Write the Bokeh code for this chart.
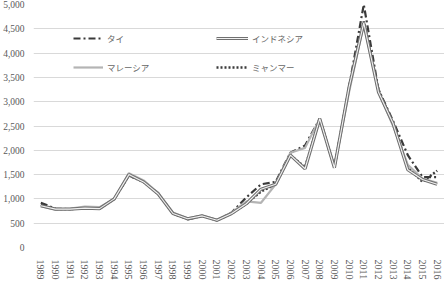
import math
from bokeh.plotting import figure
from bokeh.models import FactorRange, Range1d, Legend, LegendItem, NumeralTickFormatter, FixedTicker
from bokeh.embed import file_html
from bokeh.resources import INLINE

years = [str(y) for y in range(1989, 2017)]

thai = [920, 800, 790, 810, 800, 1000, 1480, 1360, 1120, 700, 580, 650, 560, 720,
        1030, 1300, 1350, 1950, 2100, 2650, 1650, 3300, 5000, 3250, 2600, 1900, 1450, 1450]
indonesia = [860, 790, 790, 810, 800, 1000, 1500, 1350, 1100, 700, 590, 650, 560, 700,
             900, 1200, 1300, 1900, 1620, 2650, 1640, 3300, 4620, 3200, 2550, 1600, 1400, 1300]
malaysia = [850, 780, 800, 840, 830, 1000, 1530, 1380, 1120, 720, 600, 660, 570, 720,
            950, 920, 1300, 1950, 2050, 2650, 1650, 3200, 4600, 3200, 2500, 1700, 1420, 1330]
myanmar = [880, 790, 790, 810, 800, 1000, 1480, 1350, 1100, 700, 590, 650, 560, 700,
           900, 1150, 1300, 1900, 1650, 2650, 1650, 3300, 4650, 3250, 2550, 1650, 1350, 1580]

labels = ["タイ", "インドネシア", "マレーシア", "ミャンマー"]
y_ticks = [0, 500, 1000, 1500, 2000, 2500, 3000, 3500, 4000, 4500, 5000]

p = figure(width=444, height=282, x_range=FactorRange(*years), y_range=Range1d(0, 5000),
           output_backend="svg", toolbar_location=None,
           min_border_left=27, min_border_right=0, min_border_top=4, min_border_bottom=35)
p.outline_line_color = None
p.background_fill_color = "white"
p.border_fill_color = "white"

p.xgrid.grid_line_color = None
p.ygrid.grid_line_color = "#d9d9d9"
p.ygrid.grid_line_width = 1

p.yaxis.ticker = FixedTicker(ticks=y_ticks)
p.yaxis.formatter = NumeralTickFormatter(format="0,0")
for ax in (p.xaxis[0], p.yaxis[0]):
    ax.axis_line_color = None
    ax.major_tick_line_color = None
    ax.minor_tick_line_color = None
    ax.major_label_text_font = "Liberation Serif"
    ax.major_label_text_color = "#595959"
    ax.major_label_text_font_size = "9.5px"
p.yaxis.major_label_standoff = 3
p.xaxis.major_label_orientation = -math.pi / 2
p.xaxis.major_label_standoff = 6
p.xaxis.major_label_text_font_size = "10px"

r_thai = p.line(years, thai, line_color="#3a3a3a", line_width=2.2, line_dash="7 3 2 3")
r_mya = p.line(years, myanmar, line_color="#3a3a3a", line_width=2.4, line_dash="2 2")
r_mal = p.line(years, malaysia, line_color="#b4b4b4", line_width=2.2)
r_ind_o = p.line(years, indonesia, line_color="#707070", line_width=3.2)
r_ind_i = p.line(years, indonesia, line_color="#f2f2f2", line_width=1.1)

def add_legend(label, renderers, x, y, gw):
    lg = Legend(items=[LegendItem(label=label, renderers=renderers)], location=(x, y),
                padding=0, margin=0, spacing=0, border_line_color=None,
                background_fill_alpha=0, glyph_width=gw, glyph_height=10,
                label_height=10, label_standoff=4,
                label_text_font="Noto Sans CJK JP", label_text_font_size="8.5px",
                label_text_color="#666666")
    p.add_layout(lg)

add_legend(labels[0], [r_thai], 40, 203, 30)
add_legend(labels[1], [r_ind_o, r_ind_i], 183, 203, 32)
add_legend(labels[2], [r_mal], 40, 174, 30)
add_legend(labels[3], [r_mya], 183, 174, 32)

open("out.html", "w").write(file_html(p, INLINE))
